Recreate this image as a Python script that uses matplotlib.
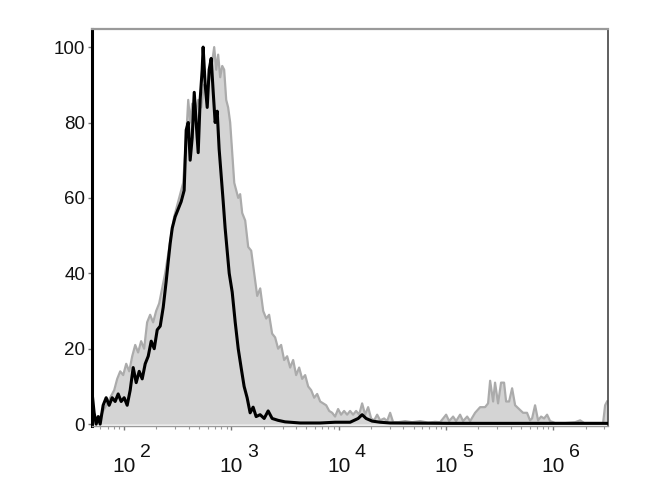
import numpy as np
import matplotlib
matplotlib.use("Agg")
import matplotlib.pyplot as plt
from matplotlib.ticker import FixedLocator, LogLocator, NullFormatter

plt.rcParams['font.family'] = ['Liberation Sans', 'DejaVu Sans']
plt.rcParams['mathtext.default'] = 'regular'

# ---- data (log10 of fluorescence intensity, % of max) ----
gray_logx = [1.702, 1.758, 1.795, 1.832, 1.870, 1.907, 1.935, 1.963, 1.991, 2.019,
             2.047, 2.075, 2.103, 2.130, 2.158, 2.186, 2.214, 2.242, 2.270, 2.298,
             2.326, 2.354, 2.382, 2.410, 2.438, 2.466, 2.494, 2.522, 2.550, 2.578,
             2.597, 2.615, 2.634, 2.662, 2.690, 2.718, 2.745, 2.774, 2.802, 2.820,
             2.839, 2.858, 2.876, 2.895, 2.914, 2.932, 2.951, 2.969, 2.988, 3.007,
             3.026, 3.044, 3.063, 3.081, 3.100, 3.128, 3.156, 3.184, 3.212, 3.240,
             3.268, 3.296, 3.324, 3.351, 3.379, 3.407, 3.435, 3.463, 3.491, 3.519,
             3.547, 3.575, 3.603, 3.631, 3.659, 3.687, 3.715, 3.743, 3.771, 3.799,
             3.827, 3.855, 3.883, 3.911, 3.939, 3.966, 3.994, 4.022, 4.050, 4.078,
             4.106, 4.134, 4.162, 4.190, 4.218, 4.246, 4.274, 4.302, 4.330, 4.358,
             4.386, 4.423, 4.451, 4.479, 4.507, 4.554, 4.619, 4.684, 4.759, 4.833,
             4.898, 4.945, 5.001, 5.029, 5.066, 5.094, 5.131, 5.159, 5.197, 5.225,
             5.271, 5.318, 5.364, 5.392, 5.411, 5.439, 5.457, 5.485, 5.513, 5.541,
             5.560, 5.588, 5.616, 5.644, 5.681, 5.718, 5.755, 5.783, 5.802, 5.830,
             5.858, 5.886, 5.914, 5.942, 5.970, 6.017, 6.110, 6.203, 6.250, 6.287,
             6.390, 6.464, 6.483, 6.501]
gray_pct = [0.5, 1, 3, 5, 7, 9, 12, 14, 13, 16,
            14, 18, 21, 19, 22, 20, 27, 29, 27, 30,
            32, 36, 40, 45, 50, 55, 58, 61, 64, 76,
            86, 80, 85, 82, 86, 84, 90, 88, 93, 96,
            100, 94, 98, 92, 95, 94, 86, 84, 80, 72,
            64, 62, 60, 61, 56, 54, 47, 46, 40, 34,
            36, 30, 28, 29, 24, 23, 20, 21, 17, 18,
            15, 17, 13, 15, 12, 13, 10, 9, 7, 8,
            6, 5.5, 5, 3.5, 3, 2, 4, 2.5, 3.5, 2.5,
            3.5, 2.5, 3.5, 2.5, 5.5, 2.5, 4.5, 1.5, 1, 2.5,
            1, 1.5, 0.8, 3, 0.5, 0.5, 0.8, 0.5, 0.8, 0.4,
            0.6, 0.5, 2.5, 0.8, 2, 0.8, 2.5, 0.8, 2, 0.8,
            3, 4.5, 4.5, 5.5, 11.5, 6, 11, 5.5, 11, 11,
            6, 6, 9.5, 5, 4, 3, 3, 1, 1.5, 5,
            1, 2, 1.5, 2.5, 0.8, 0.3, 0.3, 0.5, 1, 0.3,
            0.3, 0.3, 5, 6]

black_logx = [1.702, 1.720, 1.739, 1.758, 1.776, 1.804, 1.832, 1.860, 1.888, 1.916,
              1.944, 1.972, 2.000, 2.028, 2.056, 2.084, 2.112, 2.140, 2.168, 2.196,
              2.224, 2.252, 2.280, 2.308, 2.336, 2.364, 2.392, 2.410, 2.429, 2.448,
              2.475, 2.503, 2.531, 2.559, 2.578, 2.597, 2.615, 2.634, 2.653, 2.671,
              2.690, 2.708, 2.727, 2.736, 2.755, 2.774, 2.792, 2.811, 2.830, 2.848,
              2.867, 2.885, 2.904, 2.923, 2.941, 2.960, 2.979, 3.007, 3.035, 3.063,
              3.090, 3.118, 3.146, 3.174, 3.202, 3.230, 3.267, 3.305, 3.342, 3.379,
              3.435, 3.500, 3.640, 3.827, 3.966, 4.106, 4.181, 4.218, 4.255, 4.311,
              4.386, 4.479, 5.038, 5.970, 6.501]
black_pct = [8, 3, 0, 2, 0, 5, 7, 5, 7, 6,
             8, 6, 7, 5, 9, 15, 11, 14, 12, 16,
             18, 22, 20, 25, 26, 31, 38, 43, 48, 52,
             55, 57, 59, 62, 78, 80, 70, 76, 88, 80,
             72, 86, 94, 100, 90, 84, 94, 97, 88, 80,
             83, 73, 66, 59, 52, 46, 40, 35, 27, 20,
             15, 10, 7, 3, 4.5, 2, 2.5, 1.5, 3.5, 1.5,
             1, 0.6, 0.3, 0.3, 0.5, 0.5, 1.5, 2.5, 1.5, 0.8,
             0.5, 0.3, 0.2, 0.2, 0.2]

x_tick_exps = [2, 3, 4, 5, 6]
y_ticks = [0, 20, 40, 60, 80, 100]

# ---- figure ----
fig = plt.figure(figsize=(6.7, 5.0), dpi=100)
ax = fig.add_axes([0.1373, 0.148, 0.7702, 0.794])

gx = 10 ** np.array(gray_logx)
bx = 10 ** np.array(black_logx)

ax.fill_between(gx, 0, gray_pct, color='#d4d4d4', linewidth=0, zorder=1)
ax.plot(gx, gray_pct, color='#ababab', linewidth=1.6, zorder=2)
ax.plot(bx, black_pct, color='black', linewidth=2.2, zorder=3)

ax.set_xscale('log')
ax.set_xlim(10 ** 1.70, 10 ** 6.51)
ax.set_ylim(-0.5, 104.8)

ax.xaxis.set_major_locator(FixedLocator([10 ** e for e in x_tick_exps]))
ax.set_xticklabels(['10' for e in x_tick_exps])
ax.xaxis.set_minor_locator(LogLocator(base=10, subs=np.arange(2, 10)))
ax.xaxis.set_minor_formatter(NullFormatter())
ax.set_yticks(y_ticks)
ax.set_yticklabels([str(v) for v in y_ticks])

# exponents of the decade labels
for e in x_tick_exps:
    ax.annotate(str(e), xy=(10 ** e, 0), xycoords=('data', 'axes fraction'),
                xytext=(15.5, -22.5), textcoords='offset points',
                ha='center', va='baseline', fontsize=14, color='#111111',
                annotation_clip=False)

ax.tick_params(axis='x', which='major', direction='out', length=3, width=1,
               color='#777777', labelsize=15, labelcolor='#111111', pad=19.5)
ax.tick_params(axis='x', which='minor', direction='out', length=2, width=0.8,
               color='#999999')
ax.tick_params(axis='y', direction='out', length=3, width=1, color='#777777',
               labelsize=13.5, labelcolor='#111111', pad=2)

ax.spines['left'].set_color('black')
ax.spines['left'].set_linewidth(2.2)
ax.spines['top'].set_color('#9a9a9a')
ax.spines['top'].set_linewidth(1.6)
ax.spines['right'].set_color('#444444')
ax.spines['right'].set_linewidth(1.2)
ax.spines['bottom'].set_color('#999999')
ax.spines['bottom'].set_linewidth(1.0)

fig.savefig('out.png', dpi=100)
